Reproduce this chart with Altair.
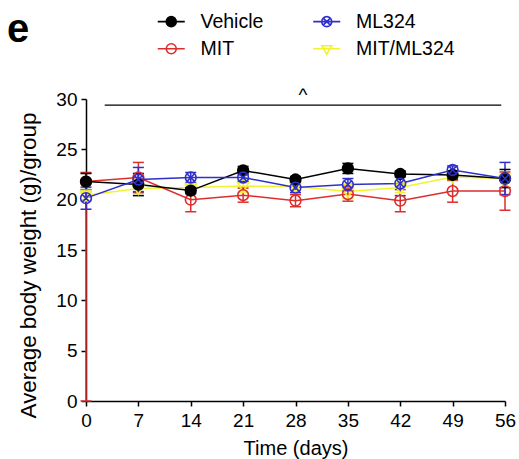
import altair as alt
import pandas as pd

# ---- data ----
days = [0, 7, 14, 21, 28, 35, 42, 49, 56]

vehicle = [21.8, 21.5, 20.9, 22.9, 22.0, 23.1, 22.55, 22.45, 22.1]
vehicle_err = [0.8, 1.1, 0.3, 0.4, 0.3, 0.5, 0.3, 0.4, 0.9]

mit = [21.8, 22.2, 20.0, 20.45, 19.9, 20.55, 19.9, 20.85, 20.85]
mit_err_hi = [0.9, 1.5, 1.2, 0.7, 0.6, 0.7, 1.1, 1.1, 1.9]
mit_err_lo = [21.8, 1.5, 1.2, 0.7, 0.6, 0.7, 1.1, 1.1, 1.9]

ml324 = [20.15, 22.0, 22.2, 22.2, 21.2, 21.5, 21.6, 22.95, 22.1]
ml324_err = [1.1, 1.2, 0.5, 0.4, 0.5, 0.6, 1.2, 0.4, 1.6]

combo = [20.45, 21.1, 21.2, 21.35, 21.3, 20.8, 21.2, 22.25, 22.1]
combo_err = [0.5, 0.5, 0.4, 0.6, 0.4, 0.7, 0.5, 0.4, 0.5]

# legend order (row-wise, 2 columns): Vehicle, ML324 / MIT, MIT/ML324
series_order = ["Vehicle", "ML324", "MIT", "MIT/ML324"]
series_colors = ["#000000", "#2f2fcc", "#dd2e2e", "#f2f230"]
series_fill = ["#000000", "transparent", "transparent", "transparent"]

sig_start = [2.5]
sig_end = [55.5]
sig_level = [29.4]
sig_label = ["^"]
x_ticks = days
y_ticks = [0, 5, 10, 15, 20, 25, 30]

# ---- build table ----
rows = []
def add(name, vals, lo, hi, order):
    for d, v, l, h in zip(days, vals, lo, hi):
        rows.append({"day": d, "weight": v, "lo": v - l, "hi": v + h,
                     "series": name, "draw": order})

add("MIT/ML324", combo, combo_err, combo_err, 0)
add("MIT", mit, mit_err_lo, mit_err_hi, 1)
add("Vehicle", vehicle, vehicle_err, vehicle_err, 2)
add("ML324", ml324, ml324_err, ml324_err, 3)
df = pd.DataFrame(rows)

sig_df = pd.DataFrame({"x1": sig_start, "x2": sig_end, "y": sig_level,
                       "label": sig_label,
                       "xm": [(a + b) / 2 for a, b in zip(sig_start, sig_end)]})

FONT = "Liberation Sans"

circle = "M-1,0A1,1 0 1,0 1,0A1,1 0 1,0 -1,0Z"
cross = "M-0.707,-0.707L0.707,0.707M-0.707,0.707L0.707,-0.707"
tri = "M-1,-0.6L1,-0.6L0,1.1Z"
marker_paths = [circle, circle + cross, circle, tri]
seg = "M-2.7,0H2.7"
legend_paths = [seg + circle, seg + circle + cross, seg + circle, seg + tri]

xs = alt.Scale(domain=[0, 56], nice=False, zero=False)
ys = alt.Scale(domain=[0, 30], nice=False)
cscale = alt.Scale(domain=series_order, range=series_colors)

X = alt.X("day:Q", scale=xs, title="Time (days)",
          axis=alt.Axis(values=x_ticks, format="d"))
Y = alt.Y("weight:Q", scale=ys, title="Average body weight (g)/group",
          axis=alt.Axis(values=y_ticks, format="d", titleY=166, titleX=-51,
                        titleAngle=270, titleAlign="center",
                        titleBaseline="alphabetic", titleFontSize=22.4))

base = alt.Chart(df)

lines = base.mark_line(strokeWidth=1.5).encode(
    x=X, y=Y,
    color=alt.Color("series:N", scale=cscale, legend=None),
    order=alt.Order("day:Q"),
)

err = base.mark_rule(strokeWidth=1.5).encode(
    x="day:Q", y="lo:Q", y2="hi:Q",
    color=alt.Color("series:N", scale=cscale, legend=None),
)
cap_lo = base.mark_tick(thickness=1.5, size=11, orient="horizontal", opacity=1).encode(
    x="day:Q", y="lo:Q",
    color=alt.Color("series:N", scale=cscale, legend=None),
)
cap_hi = base.mark_tick(thickness=1.5, size=11, orient="horizontal", opacity=1).encode(
    x="day:Q", y="hi:Q",
    color=alt.Color("series:N", scale=cscale, legend=None),
)

points = base.mark_point(filled=True, size=115, strokeWidth=1.6, opacity=1).encode(
    x="day:Q", y="weight:Q",
    shape=alt.Shape("series:N", scale=alt.Scale(domain=series_order, range=marker_paths), legend=None),
    stroke=alt.Stroke("series:N", scale=cscale, legend=None),
    fill=alt.Fill("series:N", scale=alt.Scale(domain=series_order, range=series_fill), legend=None),
    order=alt.Order("draw:Q"),
)

legend_layer = base.transform_filter("datum.day < 0").mark_point(
    filled=True, size=100, strokeWidth=1.6, opacity=1).encode(
    x="day:Q", y="weight:Q",
    shape=alt.Shape("series:N", scale=alt.Scale(domain=series_order, range=legend_paths), title=None),
    stroke=alt.Stroke("series:N", scale=cscale, title=None),
    fill=alt.Fill("series:N", scale=alt.Scale(domain=series_order, range=series_fill), title=None),
)

sig_rule = alt.Chart(sig_df).mark_rule(color="black", strokeWidth=1.3).encode(
    x="x1:Q", x2="x2:Q", y="y:Q")
sig_text = alt.Chart(sig_df).mark_text(font=FONT, fontSize=19, baseline="bottom", dy=0).encode(
    x="xm:Q", y="y:Q", text="label:N")

panel = alt.Chart(sig_df).mark_text(font=FONT, fontSize=40, fontWeight="bold",
                                    align="left", baseline="alphabetic").encode(
    x=alt.value(-79), y=alt.value(-57), text=alt.value("e"))

chart = alt.layer(
    lines, err, cap_lo, cap_hi, points, legend_layer, sig_rule, sig_text, panel
).resolve_scale(
    shape="independent", stroke="independent", fill="independent"
).properties(
    width=419, height=302,
    autosize=alt.AutoSizeParams(type="none"),
    padding={"left": 86, "top": 99, "right": 14, "bottom": 58},
).configure_view(stroke=None).configure_axis(
    grid=False, domainColor="black", domainWidth=1.5, tickColor="black",
    tickWidth=1.5, tickSize=5, labelFont=FONT, labelFontSize=19,
    labelColor="black", titleFont=FONT, titleFontSize=20,
    titleFontWeight="normal", titleColor="black",
).configure_axisX(labelPadding=5, titlePadding=8, labelFlush=False
).configure_axisY(labelPadding=4).configure_legend(
    orient="none", legendX=75.5, legendY=-87.5, columns=2, direction="horizontal",
    padding=0, labelFont=FONT, labelFontSize=19.5, labelColor="black",
    labelOffset=19.5, columnPadding=46.5, rowPadding=6.5, symbolSize=100,
    symbolStrokeWidth=1.6, gridAlign="each",
)

chart.save("out.html", embed_options={"renderer": "svg", "actions": False})
